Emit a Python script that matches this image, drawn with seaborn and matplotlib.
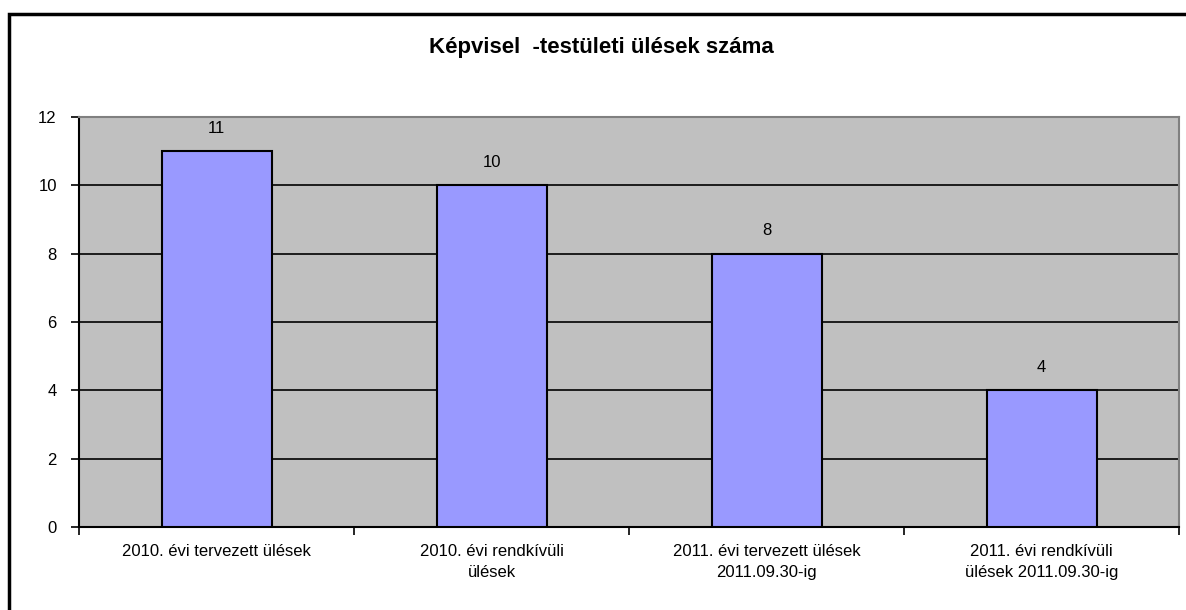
import matplotlib
matplotlib.use("Agg")
import matplotlib.pyplot as plt
import seaborn as sns
import pandas as pd
from matplotlib.patches import Rectangle

categories = [
    "2010. évi tervezett ülések",
    "2010. évi rendkívüli\nülések",
    "2011. évi tervezett ülések\n2011.09.30-ig",
    "2011. évi rendkívüli\nülések 2011.09.30-ig",
]
values = [11, 10, 8, 4]
title = "Képvisel  -testületi ülések száma"
yticks = [0, 2, 4, 6, 8, 10, 12]

plt.rcParams['font.family'] = ['Liberation Sans', 'DejaVu Sans']

df = pd.DataFrame({"cat": categories, "val": values})

fig = plt.figure(figsize=(11.86, 6.10), dpi=100)
fig.patch.set_facecolor("white")
ax = fig.add_axes([79/1186, 1-527/610, (1179-79)/1186, (527-117)/610])
ax.set_facecolor("#C0C0C0")

sns.barplot(data=df, x="cat", y="val", color="#9999FF", edgecolor="black",
            linewidth=1.5, width=0.4, saturation=1, ax=ax, zorder=3)

ax.set_ylim(0, 12)
ax.set_xlim(-0.5, 3.5)
ax.set_yticks(yticks)
ax.set_yticklabels([str(t) for t in yticks], fontsize=12)
for t in yticks[1:-1]:
    ax.axhline(t, color="black", lw=1.2, zorder=1)

ax.set_xticks([-0.5, 0.5, 1.5, 2.5, 3.5])
ax.set_xticklabels([])
ax.set_xticks(range(len(categories)), minor=True)
ax.set_xticklabels(categories, minor=True, fontsize=12, linespacing=1.5)
ax.tick_params(axis="x", which="minor", length=0, pad=12)
ax.tick_params(axis="x", which="major", length=6, width=1.2, direction="out")
ax.tick_params(axis="y", length=6, width=1.2, pad=10)
ax.set_xlabel("")
ax.set_ylabel("")

for s in ["top", "right"]:
    ax.spines[s].set_color("#808080")
    ax.spines[s].set_linewidth(1.5)
for s in ["left", "bottom"]:
    ax.spines[s].set_color("black")
    ax.spines[s].set_linewidth(1.5)

for c in ax.containers:
    ax.bar_label(c, labels=[str(v) for v in values], padding=11, fontsize=12)

fig.text(601/1186, 1-48/610, title, ha="center", va="center",
         fontsize=16, fontweight="bold")

fig.patches.append(Rectangle((9/1186, -0.2), 1.2, 1.2 - 14/610,
                             transform=fig.transFigure, fill=False,
                             edgecolor="black", lw=2.5, clip_on=False))

fig.savefig("out.png", dpi=100)
